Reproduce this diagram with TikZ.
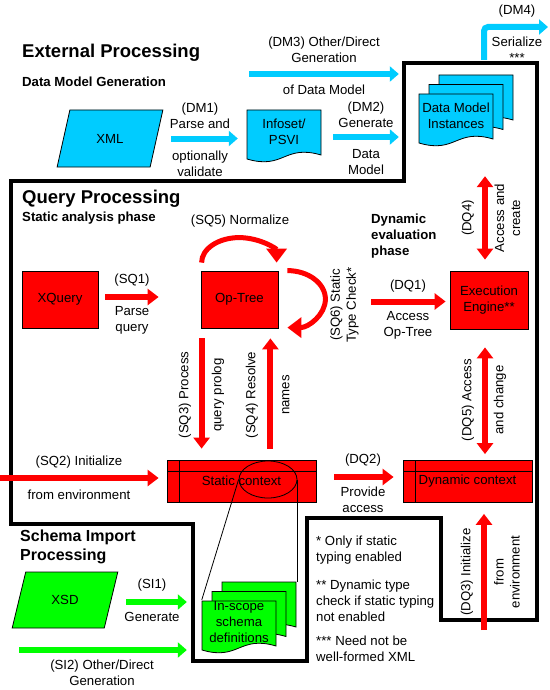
\documentclass[tikz,border=0pt]{standalone}
\usepackage{fontspec}
\setmainfont{Liberation Sans}
\usetikzlibrary{shapes.geometric, arrows.meta}
\definecolor{skyblue}{HTML}{00CCFF}
\definecolor{brightgreen}{HTML}{00FF00}
\newcommand{\labelfont}{\fontsize{13.2}{16}\selectfont}
\newcommand{\titlefont}{\fontsize{18.5}{22}\selectfont\bfseries}
\newcommand{\phasefont}{\fontsize{13.2}{16}\selectfont\bfseries}
\newcommand{\docsheet}[3]{%
  \filldraw[fill=#3, draw=black, line width=0.8pt] (#1,#2) -- (#1+74,#2) -- (#1+74,#2+45)
    .. controls (#1+37,#2+34) and (#1+37,#2+60) .. (#1,#2+49) -- cycle;}
\tikzstyle{redbox} = [rectangle, draw=black, line width=0.8pt, fill=red, minimum width=77pt, minimum height=57pt, inner sep=0pt, align=center]
\tikzstyle{storebox} = [rectangle, draw=black, line width=0.8pt, fill=red, minimum height=42pt, inner sep=0pt,
  path picture={\draw[line width=0.8pt] ([yshift=-11pt]path picture bounding box.north west) -- ([yshift=-11pt]path picture bounding box.north east);
                \draw[line width=0.8pt] ([xshift=12pt]path picture bounding box.north west) -- ([xshift=12pt]path picture bounding box.south west);}]
\tikzstyle{slanted} = [trapezium, trapezium stretches=true, draw=black, line width=0.8pt, minimum width=106pt, inner sep=0pt]
\tikzstyle{docnode} = [minimum width=74pt, minimum height=44pt, inner sep=0pt, align=center]
\tikzstyle{lbl} = [inner sep=0pt, align=center]
\tikzstyle{vlbl} = [lbl, rotate=90]
\tikzstyle{heading} = [anchor=west, align=left, inner sep=0pt]
\tikzstyle{bluearrow} = [line width=6pt, skyblue, -{Triangle[width=15pt,length=9pt]}]
\tikzstyle{greenarrow} = [line width=6pt, brightgreen, -{Triangle[width=15pt,length=9pt]}]
\tikzstyle{redarrow} = [line width=6pt, red, -{Triangle[width=16pt,length=11pt]}]
\tikzstyle{redboth} = [line width=6pt, red, {Triangle[width=16pt,length=11pt]}-{Triangle[width=16pt,length=11pt]}]
\tikzstyle{bendarrow} = [line width=5pt, red, -{Triangle[width=20pt,length=14pt]}]

\begin{document}
\begin{tikzpicture}[x=1pt, y=-1pt, font=\labelfont]
    \useasboundingbox (0,0) rectangle (549,690);
    %outline of the query processing area
    \draw[line width=4pt] (11,181) -- (404,181) -- (404,63) -- (537,63) -- (537,620) -- (441,620) -- (441,518)
        -- (307,518) -- (307,661) -- (193,661) -- (193,524) -- (11,524) -- cycle;

    %headings
    \node (exttitle) [heading, font=\titlefont] at (22,53) {External Processing};
    \node (dmgen) [heading, font=\phasefont] at (22,82) {Data Model Generation};
    \node (qtitle) [heading, font=\titlefont] at (22,199) {Query Processing};
    \node (staticphase) [heading, font=\phasefont] at (22,218) {Static analysis phase};
    \node (dynphase) [heading, font=\phasefont] at (371,236) {Dynamic\\evaluation\\phase};
    \node (sititle) [heading, font=\fontsize{16}{19}\selectfont\bfseries] at (20,546.5) {Schema Import\\Processing};

    %shapes
    \node (xml) [slanted, fill=skyblue, minimum height=57pt, trapezium left angle=64.6, trapezium right angle=115.4] at (110,138.5) {XML};
    \docsheet{247}{110}{skyblue}
    \node (infoset) [docnode] at (284,132) {Infoset/\\PSVI};
    \docsheet{439}{75}{skyblue}
    \docsheet{429}{84.5}{skyblue}
    \docsheet{419}{94}{skyblue}
    \node (dmi) [docnode] at (456,116) {Data Model\\Instances};
    \node (xquery) [redbox, minimum width=76pt] at (60,299.5) {XQuery};
    \node (optree) [redbox] at (239.5,299.5) {Op-Tree};
    \node (exec) [redbox, minimum width=78pt, minimum height=58pt] at (489,300) {Execution\\Engine**};
    \node (statctx) [storebox, minimum width=149pt] at (241.5,481) {Static context};
    \node (dynctx) [storebox, minimum width=129pt] at (467.5,481.5) {Dynamic context};
    \node (ctxring) [ellipse, draw=black, line width=0.8pt, minimum width=58pt, minimum height=37pt] at (268,479.5) {};
    \node (xsd) [slanted, fill=brightgreen, minimum height=56pt, trapezium left angle=63.4, trapezium right angle=116.6] at (65,600) {XSD};
    \docsheet{222}{582}{brightgreen}
    \docsheet{212}{591.5}{brightgreen}
    \docsheet{202}{601}{brightgreen}
    \node (schema) [docnode] at (239,622) {In-scope\\schema\\definitions};
    \coordinate (schemaback) at (296,582);
    \draw[line width=0.8pt] (ctxring.west) -- (schema.north west);
    \draw[line width=0.8pt] (ctxring.east) -- (ctxring.east |- schemaback);

    %connectors
    \coordinate (dm3start) at (249,74);
    \coordinate (dm4start) at (484,60);
    \coordinate (dm4end) at (548,27);
    \coordinate (sq2start) at (0,478);
    \coordinate (dq3start) at (484,630);
    \coordinate (si2start) at (19,650);
    \draw[bluearrow, shorten >=20pt] (dm3start) -- (dm3start -| dmi.west);
    \draw[bluearrow, shorten <=14pt, shorten >=9pt] (xml.east) -- (xml.east -| infoset.west);
    \draw[bluearrow, shorten <=12pt, shorten >=20pt] ([yshift=-5pt]infoset.east) -- ([yshift=-5pt]infoset.east -| dmi.west);
    \draw[bluearrow, rounded corners=4pt] (dm4start) |- (dm4end);
    \draw[redarrow, shorten <=7pt, shorten >=42pt] ([yshift=2.5pt]xquery.east) -- ([yshift=2.5pt]optree.west);
    \draw[bendarrow] ([shift={(1pt,8pt)}]optree.north west) arc[start angle=180, end angle=0, x radius=37.5pt, y radius=25pt];
    \draw[bendarrow] ([xshift=9pt]optree.north east) arc[start angle=90, end angle=-90, x radius=38pt, y radius=28.5pt];
    \draw[redarrow, shorten <=10pt, shorten >=11pt] ([xshift=1pt]optree.south west) -- ([xshift=1pt]optree.south west |- statctx.north);
    \draw[redarrow, shorten <=11pt, shorten >=10pt] ([xshift=-8pt]optree.south east |- statctx.north) -- ([xshift=-8pt]optree.south east);
    \draw[redarrow, shorten <=93pt, shorten >=4pt] ([yshift=-2pt]optree.east) -- ([yshift=-2pt]optree.east -| exec.west);
    \draw[redboth, shorten <=11pt, shorten >=38pt] ([xshift=-4pt]exec.north) -- ([xshift=-4pt]exec.north |- dmi.south);
    \draw[redboth, shorten <=18pt, shorten >=6pt] ([xshift=-4pt]exec.south) -- ([xshift=-4pt]exec.south |- dynctx.north);
    \draw[redarrow, shorten >=8pt] (sq2start) -- (sq2start -| statctx.west);
    \draw[redarrow, shorten <=18pt, shorten >=9pt] ([yshift=4pt]statctx.east) -- ([yshift=4pt]statctx.east -| dynctx.west);
    \draw[redarrow, shorten >=11pt] (dq3start) -- (dq3start |- dynctx.south);
    \draw[greenarrow, shorten <=15pt, shorten >=15pt] ([yshift=-2pt]xsd.east) -- ([yshift=-2pt]xsd.east -| schema.west);
    \draw[greenarrow, shorten >=15pt] (si2start) -- (si2start -| schema.west);

    %connector labels
    \node (dm3top) [lbl] at (324,50) {(DM3) Other/Direct\\Generation};
    \node (dm3bot) [lbl] at (324,90) {of Data Model};
    \node (dm1top) [lbl] at (200,116) {(DM1)\\Parse and};
    \node (dm1bot) [lbl] at (200,164) {optionally\\validate};
    \node (dm2top) [lbl] at (366,115) {(DM2)\\Generate};
    \node (dm2bot) [lbl] at (366,162.5) {Data\\Model};
    \node (dm4top) [lbl] at (517,11) {(DM4)};
    \node (dm4bot) [lbl] at (517,49.5) {Serialize\\***};
    \node (sq5lbl) [lbl] at (240,221) {(SQ5) Normalize};
    \node (sq1top) [lbl] at (132,280) {(SQ1)};
    \node (sq1bot) [lbl] at (132,320) {Parse\\query};
    \node (sq6lbl) [vlbl] at (344.5,305) {(SQ6) Static\\Type Check*};
    \node (dq1top) [lbl] at (408,286) {(DQ1)};
    \node (dq1bot) [lbl] at (408,325) {Access\\Op-Tree};
    \node (dq4left) [vlbl] at (468,218) {(DQ4)};
    \node (dq4right) [vlbl] at (507.5,218) {Access and\\create};
    \node (sq3left) [vlbl] at (185,395) {(SQ3) Process};
    \node (sq3right) [vlbl] at (218,395) {query prolog};
    \node (sq4left) [vlbl] at (252,395) {(SQ4) Resolve};
    \node (sq4right) [vlbl] at (286,395) {names};
    \node (dq5left) [vlbl] at (468,400) {(DQ5) Access};
    \node (dq5right) [vlbl] at (500,400) {and change};
    \node (sq2top) [lbl] at (79,462) {(SQ2) Initialize};
    \node (sq2bot) [lbl] at (79,495) {from environment};
    \node (dq2top) [lbl] at (363,460) {(DQ2)};
    \node (dq2bot) [lbl] at (363,499.5) {Provide\\access};
    \node (si1top) [lbl] at (152,585) {(SI1)};
    \node (si1bot) [lbl] at (152,617) {Generate};
    \node (si2bot) [lbl] at (102,673) {(SI2) Other/Direct\\Generation};
    \node (dq3left) [vlbl] at (467,572) {(DQ3) Initialize};
    \node (dq3right) [vlbl] at (507,572) {from\\environment};

    %footnotes
    \node (note1) [heading] at (316,550) {* Only if static\\typing enabled};
    \node (note2) [heading] at (316,601) {** Dynamic type\\check if static typing\\not enabled};
    \node (note3) [heading] at (316,649) {*** Need not be\\well-formed XML};
\end{tikzpicture}
\end{document}
